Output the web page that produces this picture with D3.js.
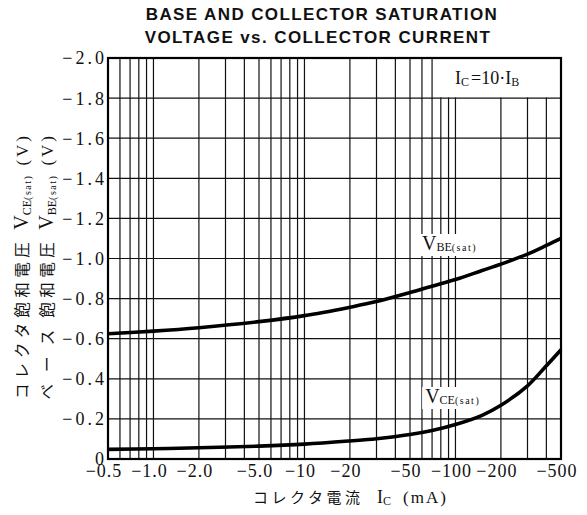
<!DOCTYPE html>
<html lang="ja">
<head>
    <meta charset="UTF-8">
    <script src="https://cdn.jsdelivr.net/npm/d3@7"></script>
    <title>saturation voltage</title>
    <style>
        body { margin: 0; background: #fff; }
        .grid line { stroke: #111; stroke-width: 1.2; }
        .num { font-family: "Liberation Serif", serif; font-size: 18px; fill: #111; }
        .title { font-family: "Liberation Sans", Arial, sans-serif; font-size: 17px; font-weight: bold; fill: #111; letter-spacing: 1.4px; }
        .jp { font-family: "Noto Sans CJK JP", sans-serif; fill: #111; }
        .serif { font-family: "Liberation Serif", serif; fill: #111; }
    </style>
</head>
<body>
    <svg width="587" height="515"></svg>
    <script>
        // collector current (mA, magnitude)
        var currents = [0.5, 1, 2, 5, 10, 20, 30, 50, 70, 100, 150, 200, 300, 400, 500];
        var vbeSat   = [-0.625, -0.638, -0.655, -0.685, -0.715, -0.757, -0.785, -0.83, -0.862, -0.895, -0.94, -0.972, -1.022, -1.065, -1.10];
        var vceSat   = [-0.048, -0.051, -0.056, -0.064, -0.074, -0.09, -0.101, -0.122, -0.142, -0.172, -0.218, -0.268, -0.365, -0.465, -0.545];

        var xTicks = [0.5, 1, 2, 5, 10, 20, 50, 100, 200, 500];
        var xTickLabels = ["\u22120.5", "\u22121.0", "\u22122.0", "\u22125.0", "\u221210", "\u221220", "\u221250", "\u2212100", "\u2212200", "\u2212500"];
        var xGrid = [0.6, 0.7, 0.8, 0.9, 1, 2, 3, 4, 5, 6, 7, 8, 9, 10, 20, 30, 40, 50, 60, 70, 80, 90, 100, 200, 300, 400];
        var yTicks = [0, -0.2, -0.4, -0.6, -0.8, -1.0, -1.2, -1.4, -1.6, -1.8, -2.0];
        var yTickLabels = ["0", "\u22120.2", "\u22120.4", "\u22120.6", "\u22120.8", "\u22121.0", "\u22121.2", "\u22121.4", "\u22121.6", "\u22121.8", "\u22122.0"];

        var svg = d3.select("svg");
        var pLeft = 108, pRight = 561, pTop = 58, pBottom = 459;

        var x = d3.scaleLog().domain([0.5, 500]).range([pLeft, pRight]);
        var y = d3.scaleLinear().domain([0, -2]).range([pBottom, pTop]);

        // title
        svg.append("text").attr("class", "title")
           .attr("x", 322).attr("y", 20).attr("text-anchor", "middle")
           .text("BASE AND COLLECTOR SATURATION");
        svg.append("text").attr("class", "title")
           .attr("x", 318).attr("y", 43).attr("text-anchor", "middle")
           .text("VOLTAGE vs. COLLECTOR CURRENT");

        // vertical grid
        var grid = svg.append("g").attr("class", "grid");
        grid.selectAll(".vx").data(xGrid).enter().append("line")
            .attr("x1", function(d) { return x(d); })
            .attr("x2", function(d) { return x(d); })
            .attr("y1", pTop).attr("y2", pBottom);

        // white box for the condition label (hides vertical lines)
        svg.append("rect")
           .attr("x", x(70) + 1.5).attr("y", pTop)
           .attr("width", pRight - x(70) - 1.5).attr("height", y(-1.8) - pTop - 0.6)
           .attr("fill", "#fff");

        // horizontal grid
        var hgrid = svg.append("g").attr("class", "grid");
        hgrid.selectAll("line").data(yTicks).enter().append("line")
            .attr("x1", pLeft).attr("x2", pRight)
            .attr("y1", function(d) { return y(d); })
            .attr("y2", function(d) { return y(d); });

        var cond = svg.append("text").attr("class", "serif")
                      .attr("x", 455).attr("y", 84).style("font-size", "18px");
        cond.append("tspan").text("I");
        cond.append("tspan").attr("dy", 2).style("font-size", "12px").text("C");
        cond.append("tspan").attr("dy", -2).attr("dx", 2).text("=10\u00b7I");
        cond.append("tspan").attr("dy", 2).style("font-size", "12px").text("B");

        // curves
        var line = d3.line()
                     .x(function(d) { return x(d[0]); })
                     .y(function(d) { return y(d[1]); })
                     .curve(d3.curveCatmullRom.alpha(0.5));

        svg.append("path")
           .datum(d3.zip(currents, vbeSat))
           .attr("fill", "none").attr("stroke", "#000").attr("stroke-width", 3.6)
           .attr("d", line);
        svg.append("path")
           .datum(d3.zip(currents, vceSat))
           .attr("fill", "none").attr("stroke", "#000").attr("stroke-width", 3.6)
           .attr("d", line);

        // curve labels on white background
        function curveLabel(px, py, sub) {
            var g = svg.append("g");
            var bg = g.append("rect").attr("fill", "#fff");
            var t = g.append("text").attr("class", "serif")
                     .attr("x", px).attr("y", py).style("font-size", "20px");
            t.append("tspan").text("V");
            t.append("tspan").attr("dy", 1).style("font-size", "12px").text(sub);
            t.append("tspan").style("font-size", "10px").style("letter-spacing", "1.5px").text("(sat)");
            var b = t.node().getBBox();
            bg.attr("x", b.x - 3).attr("y", b.y + 2)
              .attr("width", b.width + 6).attr("height", b.height);
        }
        curveLabel(x(60), 250, "BE");
        curveLabel(x(63), 403, "CE");

        // frame
        svg.append("rect")
           .attr("x", pLeft).attr("y", pTop)
           .attr("width", pRight - pLeft).attr("height", pBottom - pTop)
           .attr("fill", "none").attr("stroke", "#000").attr("stroke-width", 2.2);

        // y tick labels
        svg.append("g").selectAll("text").data(yTicks).enter().append("text")
           .attr("class", "num")
           .attr("x", pLeft - 1).attr("y", function(d) { return y(d); })
           .attr("dy", "0.36em").attr("text-anchor", "end")
           .style("letter-spacing", "3px")
           .text(function(d, i) { return yTickLabels[i]; });

        // x tick labels
        svg.append("g").selectAll("text").data(xTicks).enter().append("text")
           .attr("class", "num")
           .attr("x", function(d) { return x(d) - 4; }).attr("y", 477)
           .attr("text-anchor", "middle")
           .style("letter-spacing", "1px")
           .text(function(d, i) { return xTickLabels[i]; });

        // x axis title
        var xt = svg.append("text").attr("x", 253).attr("y", 503);
        xt.append("tspan").attr("class", "jp").style("font-size", "15px")
          .style("letter-spacing", "3.5px").text("コレクタ電流");
        xt.append("tspan").attr("class", "serif").attr("x", 377).style("font-size", "18px").text("I");
        xt.append("tspan").attr("class", "serif").attr("dy", 2).style("font-size", "12px").text("C");
        xt.append("tspan").attr("class", "serif").attr("dy", -2).attr("x", 403)
          .style("font-size", "17px").style("letter-spacing", "2px").text("(mA)");

        // y axis titles (rotated)
        function yTitle(bx, kana, rest, sub, kanaSpacing) {
            var t = svg.append("text")
                       .attr("transform", "translate(" + bx + ",133) rotate(-90)")
                       .attr("text-anchor", "end");
            t.append("tspan").attr("class", "jp").style("font-size", "15.5px")
             .style("letter-spacing", kanaSpacing + "px").text(kana);
            t.append("tspan").attr("class", "jp").style("font-size", "15.5px")
             .style("letter-spacing", "4.5px").text(rest);
            t.append("tspan").attr("class", "serif").attr("dx", 8).style("font-size", "20px").text("V");
            t.append("tspan").attr("class", "serif").attr("dy", 3).style("font-size", "12px").text(sub);
            t.append("tspan").attr("class", "serif").attr("dy", 0).style("font-size", "10px")
             .style("letter-spacing", "1.5px").text("(sat)");
            t.append("tspan").attr("class", "serif").attr("dy", -3).attr("dx", 9)
             .style("font-size", "17px").style("letter-spacing", "3px").text("(V)");
        }
        yTitle(28, "コレクタ", "飽和電圧", "CE", 5);
        yTitle(53, "ベース", "飽和電圧", "BE", 12);
    </script>
</body>
</html>
